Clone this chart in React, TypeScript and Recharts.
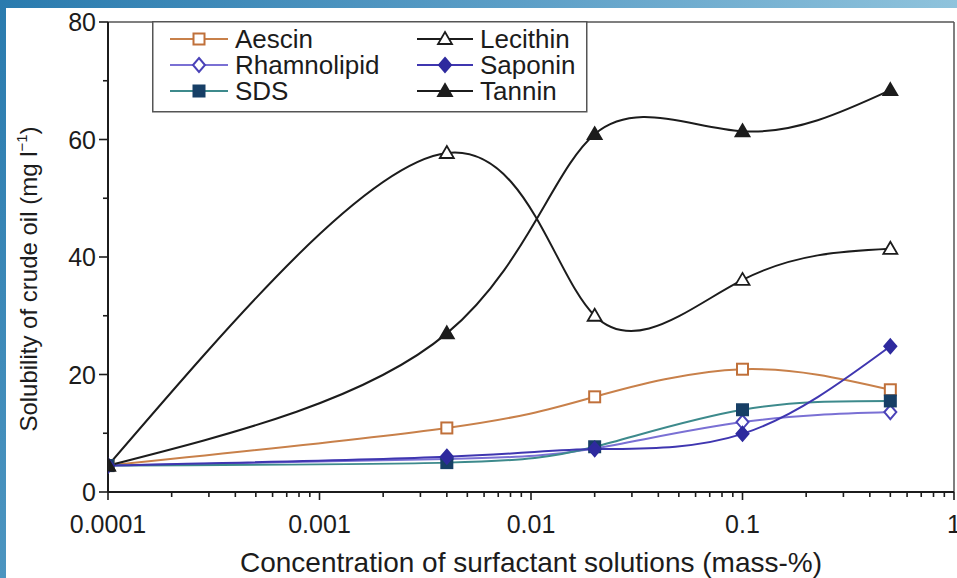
import React from "react";
import { LineChart, Line, XAxis, YAxis, ReferenceLine, Legend, Label } from "recharts";

// concentration of surfactant (mass-%), log axis
const concentrations = [0.0001, 0.004, 0.02, 0.1, 0.5];

// solubility of crude oil (mg/l)
const aescin = [4.5, 10.9, 16.2, 20.9, 17.4];
const rhamnolipid = [4.5, 5.6, 7.4, 11.9, 13.6];
const sds = [4.5, 5.0, 7.7, 14.0, 15.5];
const lecithin = [4.5, 57.7, 30.0, 36.1, 41.4];
const saponin = [4.5, 6.0, 7.3, 9.9, 24.8];
const tannin = [4.5, 27.0, 60.9, 61.4, 68.4];

const xMajorTicks = [0.0001, 0.001, 0.01, 0.1, 1];
const xMajorLabels = ["0.0001", "0.001", "0.01", "0.1", "1"];
const xMinorSteps = [2, 3, 4, 5, 6, 7, 8, 9];
const yTicks = [0, 10, 20, 30, 40, 50, 60, 70, 80];
const yLabelTicks = [0, 20, 40, 60, 80];

const FONT = "'Liberation Sans', Arial, Helvetica, sans-serif";
const INK = "#1c1c1c";

const xTicks = [
  ...xMajorTicks,
  ...xMajorTicks.slice(0, -1).flatMap((d) => xMinorSteps.map((k) => k * d)),
].sort((a, b) => a - b);

const data = concentrations.map((c, i) => ({
  conc: c,
  aescin: aescin[i],
  rhamnolipid: rhamnolipid[i],
  sds: sds[i],
  lecithin: lecithin[i],
  saponin: saponin[i],
  tannin: tannin[i],
}));

type Shape = "square" | "diamond" | "triangle";

const series = [
  { key: "aescin", name: "Aescin", line: "#c8804a", stroke: "#c0703a", fill: "#ffffff", shape: "square" as Shape },
  { key: "rhamnolipid", name: "Rhamnolipid", line: "#7a70d4", stroke: "#4a42b8", fill: "#ffffff", shape: "diamond" as Shape },
  { key: "sds", name: "SDS", line: "#3d8a8c", stroke: "#173f66", fill: "#173f66", shape: "square" as Shape },
  { key: "lecithin", name: "Lecithin", line: INK, stroke: INK, fill: "#ffffff", shape: "triangle" as Shape },
  { key: "saponin", name: "Saponin", line: "#3f36b0", stroke: "#2e2a9e", fill: "#2e2a9e", shape: "diamond" as Shape },
  { key: "tannin", name: "Tannin", line: INK, stroke: INK, fill: INK, shape: "triangle" as Shape },
];

function Marker({ shape, cx, cy, stroke, fill }: { shape: Shape; cx: number; cy: number; stroke: string; fill: string }) {
  if (shape === "square") {
    return <rect x={cx - 5.5} y={cy - 5.5} width={11} height={11} fill={fill} stroke={stroke} strokeWidth={2} />;
  }
  if (shape === "diamond") {
    return (
      <polygon
        points={`${cx},${cy - 7} ${cx + 6},${cy} ${cx},${cy + 7} ${cx - 6},${cy}`}
        fill={fill}
        stroke={stroke}
        strokeWidth={2}
      />
    );
  }
  return (
    <polygon
      points={`${cx},${cy - 7} ${cx + 7},${cy + 5} ${cx - 7},${cy + 5}`}
      fill={fill}
      stroke={stroke}
      strokeWidth={1.8}
    />
  );
}

const isMajor = (v: number) => xMajorTicks.findIndex((t) => Math.abs(v - t) / t < 1e-6);

const XTick = (props: any) => {
  const { x, y, payload } = props;
  const idx = isMajor(payload.value);
  return (
    <g>
      <line x1={x} x2={x} y1={y} y2={y + (idx >= 0 ? 8 : 5)} stroke={INK} strokeWidth={1.6} />
      {idx >= 0 && (
        <text x={x} y={y + 41} textAnchor="middle" fontFamily={FONT} fontSize={25} fill={INK}>
          {xMajorLabels[idx]}
        </text>
      )}
    </g>
  );
};

const YTick = (props: any) => {
  const { x, y, payload } = props;
  const labelled = yLabelTicks.includes(payload.value);
  return (
    <g>
      <line x1={x} x2={x - (labelled ? 9 : 5)} y1={y} y2={y} stroke={INK} strokeWidth={1.6} />
      {labelled && (
        <text x={x - 12} y={y + 9} textAnchor="end" fontFamily={FONT} fontSize={25} fill={INK}>
          {payload.value}
        </text>
      )}
    </g>
  );
};

const LegendBox = () => {
  const rows = [18, 44, 70];
  const cols = [
    { x1: 18, x2: 76, text: 83 },
    { x1: 265, x2: 321, text: 328 },
  ];
  return (
    <svg width={436} height={92} style={{ display: "block" }}>
      <rect x={0.75} y={0.75} width={434} height={90} fill="#ffffff" stroke="#555" strokeWidth={1.5} />
      {series.map((s, i) => {
        const c = cols[Math.floor(i / 3)];
        const cy = rows[i % 3];
        const cx = (c.x1 + c.x2) / 2;
        return (
          <g key={s.key}>
            <line x1={c.x1} x2={c.x2} y1={cy} y2={cy} stroke={s.line} strokeWidth={2} />
            <Marker shape={s.shape} cx={cx} cy={cy} stroke={s.stroke} fill={s.fill} />
            <text x={c.text} y={cy + 9} fontFamily={FONT} fontSize={26} fill={INK}>
              {s.name}
            </text>
          </g>
        );
      })}
    </svg>
  );
};

export default function App() {
  return (
    <div style={{ position: "relative", width: 957, height: 578, background: "#ffffff", overflow: "hidden" }}>
      <style>{"body{margin:0}"}</style>
      <LineChart width={957} height={578} data={data} margin={{ top: 22, right: 3, bottom: 0, left: 0 }}>
        <XAxis
          dataKey="conc"
          type="number"
          scale="log"
          domain={[0.0001, 1]}
          ticks={xTicks}
          interval={0}
          allowDataOverflow
          height={86}
          tickSize={0}
          tickMargin={0}
          tickLine={false}
          tick={<XTick />}
          axisLine={{ stroke: INK, strokeWidth: 2 }}
        >
          <Label
            content={(p: any) => {
              const vb = p.viewBox;
              return (
                <text x={vb.x + vb.width / 2} y={vb.y + 80} textAnchor="middle" fontFamily={FONT} fontSize={28} fill={INK}>
                  Concentration of surfactant solutions (mass-%)
                </text>
              );
            }}
          />
        </XAxis>
        <YAxis
          type="number"
          domain={[0, 80]}
          ticks={yTicks}
          interval={0}
          width={108}
          tickSize={0}
          tickMargin={0}
          tickLine={false}
          tick={<YTick />}
          axisLine={{ stroke: INK, strokeWidth: 2 }}
        >
          <Label
            content={(p: any) => {
              const vb = p.viewBox;
              const cx = vb.x + 37;
              const cy = vb.y + vb.height / 2 + 22;
              return (
                <text x={cx} y={cy} transform={`rotate(-90, ${cx}, ${cy})`} textAnchor="middle" fontFamily={FONT} fontSize={24} fill={INK}>
                  Solubility of crude oil (mg l
                  <tspan fontSize={15} dy={-10}>−1</tspan>
                  <tspan dy={10}>)</tspan>
                </text>
              );
            }}
          />
        </YAxis>
        <ReferenceLine y={80} stroke="#555" strokeWidth={1.5} />
        <ReferenceLine x={1} stroke="#555" strokeWidth={1.5} />
        {series.map((s) => (
          <Line
            key={s.key}
            dataKey={s.key}
            name={s.name}
            type="natural"
            stroke={s.line}
            strokeWidth={2}
            isAnimationActive={false}
            dot={(p: any) => (
              <Marker key={`${s.key}-${p.index}`} shape={s.shape} cx={p.cx} cy={p.cy} stroke={s.stroke} fill={s.fill} />
            )}
            activeDot={false}
          />
        ))}
        <Legend
          layout="horizontal"
          verticalAlign="middle"
          align="center"
          content={() => <LegendBox />}
          wrapperStyle={{ position: "absolute", left: 152, top: 21, width: 436, height: 92 }}
        />
      </LineChart>
      <div
        style={{
          position: "absolute",
          left: 0,
          top: 0,
          width: 957,
          height: 8,
          background: "linear-gradient(to right, #2a7bae, #5d9fc7 55%, #8fc3dc)",
        }}
      />
      <div
        style={{
          position: "absolute",
          left: 0,
          top: 0,
          width: 6,
          height: 578,
          background: "linear-gradient(to bottom, #2a7bae, #4c95c0)",
        }}
      />
    </div>
  );
}
